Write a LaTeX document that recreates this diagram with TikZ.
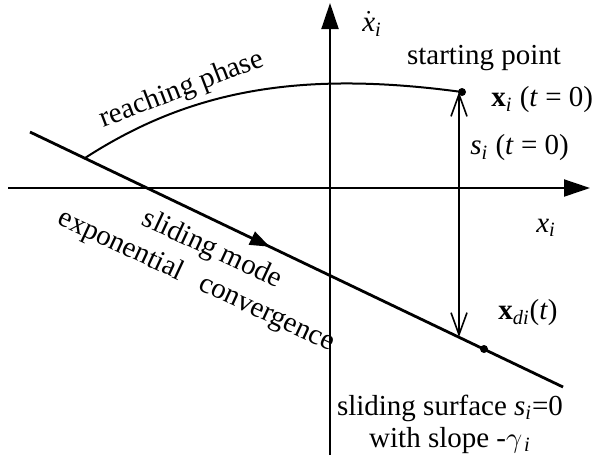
\documentclass[tikz,border=0pt]{standalone}
\usepackage{amsmath}
\usepackage{fontspec}
\setmainfont{Liberation Serif}
\usetikzlibrary{arrows.meta, positioning, decorations.markings}
\newcommand{\vi}{\textit{i}}

\begin{document}
\begin{tikzpicture}[x=0.5pt, y=-0.5pt,
        axis/.style={line width=1pt, -{Triangle[length=13pt,width=8.5pt]}},
        surface/.style={line width=1.4pt, postaction={decorate},
          decoration={markings, mark=at position 0.45 with {\arrow{Triangle[length=10pt,width=7pt]}}}},
        traj/.style={line width=1pt},
        dist/.style={line width=0.8pt, {Straight Barb[length=11pt,width=8pt]}-{Straight Barb[length=11pt,width=8pt]}},
        lbl/.style={font=\fontsize{14.5}{16}\selectfont, inner sep=1pt}
      ]
        \useasboundingbox (0,0) rectangle (592,463);
        \coordinate (xl) at (8,188);
        \coordinate (xr) at (590,188);
        \coordinate (yb) at (330,455);
        \coordinate (yt) at (330,3);
        \coordinate (surfA) at (30,132);
        \coordinate (surfB) at (563,387);
        \coordinate (reach) at (85,158);
        \coordinate (start) at (462,92);
        \coordinate (stop) at (459,92);
        \coordinate (sbot) at (459,337);
        \coordinate (xd) at (484,349);
        \draw[axis] (xl) -- (xr);
        \draw[axis] (yb) -- (yt);
        \draw[surface] (surfA) -- (surfB);
        \draw[traj] (reach) .. controls (190,90) and (300,70) .. (start);
        \draw[dist] (stop) -- (sbot);
        \fill (start) circle[radius=2pt];
        \fill (xd) circle[radius=2pt];
        \node[lbl] (xdotlbl) at (372,24) {$\dot{\textit{x}}_{\vi}$};
        \node[lbl] (startlbl) at (484,58) {starting point};
        \node[lbl, anchor=west] (x0lbl) at (489,100) {\textbf{x}$_{\vi}$ (\textit{t} = 0)};
        \node[lbl, anchor=west] (s0lbl) at (468,148) {\textit{s}$_{\vi}$ (\textit{t} = 0)};
        \node[lbl] (xilbl) at (546,228) {\textit{x}$_{\vi}$};
        \node[lbl, anchor=west] (xdlbl) at (496,313) {\textbf{x}$_{\textit{di}}$(\textit{t})};
        \node[lbl, align=center] (surflbl) at (450,424) {sliding surface \textit{s}$_{\vi}$=0\\with slope -$\gamma_{\,\vi}$};
        \node[lbl, rotate=21] (reachlbl) at (182,90) {reaching phase};
        \node[lbl, rotate=-25] (slidelbl) at (212,250) {sliding mode};
        \node[lbl, rotate=-25] (explbl) at (196,281) {exponential\hspace{0.7em}convergence};
      \end{tikzpicture}
\end{document}
